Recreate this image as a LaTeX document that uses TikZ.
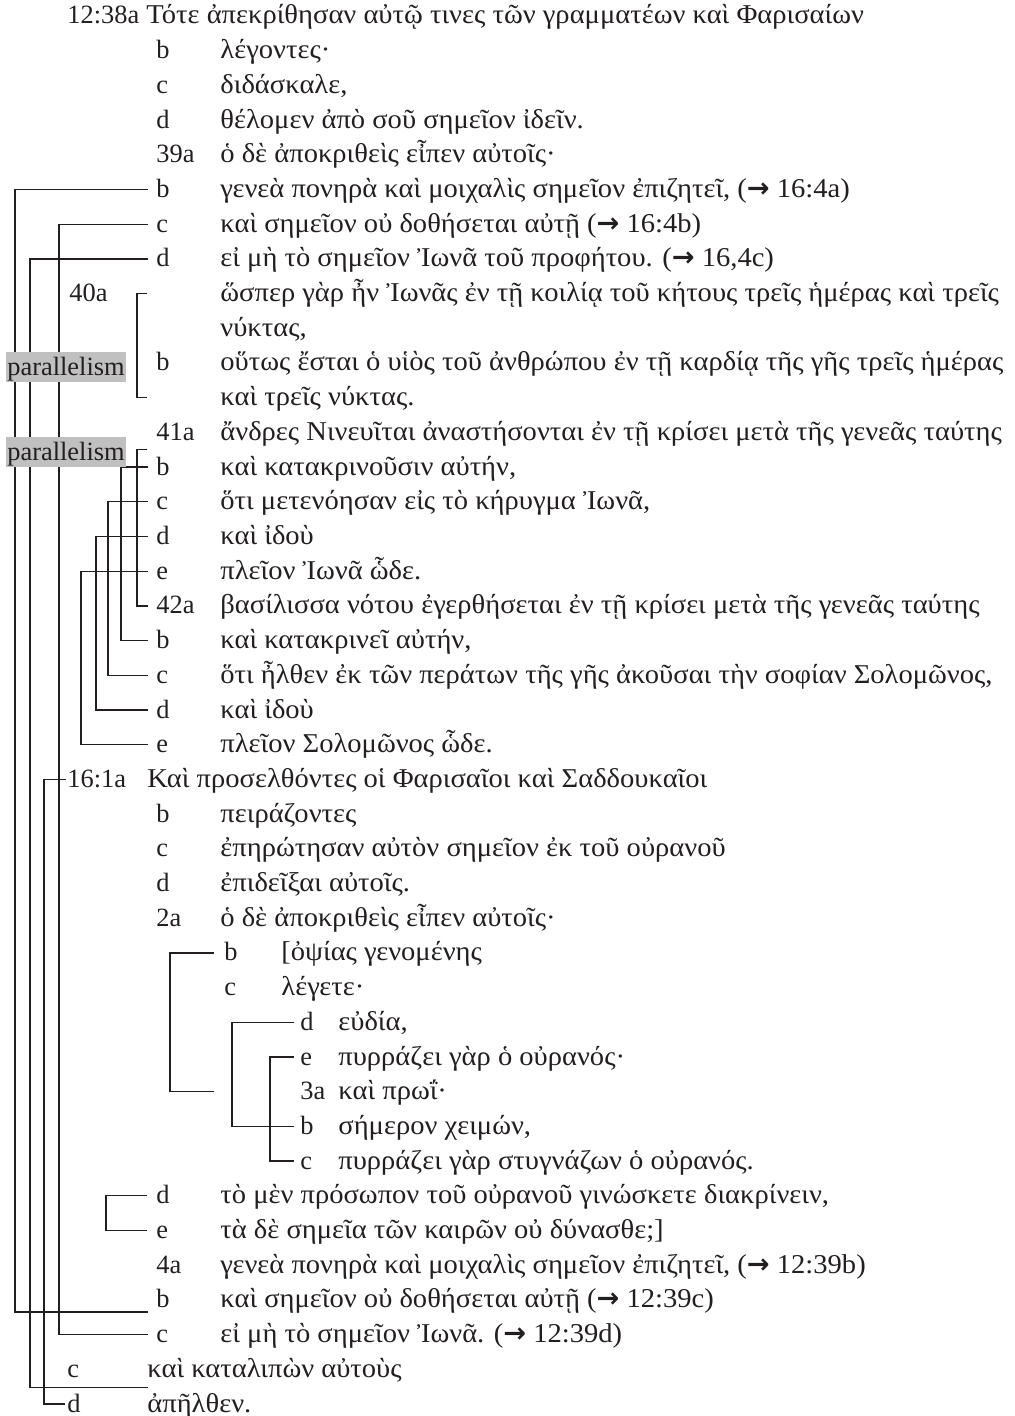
\documentclass[tikz,border=0pt]{standalone}
\usepackage{fontspec}
\setmainfont{Liberation Serif}
\newfontfamily\grk[FakeStretch=1.05]{Liberation Serif}
\newfontfamily\arrowfont{DejaVu Sans}
\definecolor{ink}{RGB}{35,31,32}
\definecolor{boxgray}{RGB}{192,192,192}
\newcommand\fsz{\fontsize{13.2pt}{16pt}\selectfont}
\newcommand\gsz{\grk\fontsize{13.6pt}{16pt}\selectfont}
\newcommand\myarr{{\arrowfont\bfseries →}}
\newcommand\yb[1]{{24+(#1-1)*34.7}}
\begin{document}
\begin{tikzpicture}[x=0.5pt,y=-0.5pt,
  lab/.style={anchor=base west, inner sep=0pt, font=\fsz, text=ink},
  txt/.style={anchor=base west, inner sep=0pt, font=\gsz, text=ink},
  conn/.style={draw=ink, line width=0.65pt},
  pbox/.style={anchor=base, fill=boxgray, inner xsep=0.8pt, inner ysep=0pt, text height=11.8pt, text depth=2.9pt, font=\fsz, text=ink}]
\useasboundingbox (0,0) rectangle (1014,1416);
% column coordinates for vertical bars
\foreach \n/\x in {v15/15,v30/30,v44/44,v59/59,v81/81,v96/96,v106/106,v108/108,v121/121,v137/137,v170/170,v232/232,v270/270}
  {\coordinate (\n) at (\x,0);}
% rows
\node[lab] (l1) at (67,\yb{1}) {12:38a};
\node[txt] (t1) at (146,\yb{1}) {Τότε ἀπεκρίθησαν αὐτῷ τινες τῶν γραμματέων καὶ Φαρισαίων};
\node[lab] (l2) at (156,\yb{2}) {b};
\node[txt] (t2) at (220,\yb{2}) {λέγοντες·};
\node[lab] (l3) at (156,\yb{3}) {c};
\node[txt] (t3) at (220,\yb{3}) {διδάσκαλε,};
\node[lab] (l4) at (156,\yb{4}) {d};
\node[txt] (t4) at (220,\yb{4}) {θέλομεν ἀπὸ σοῦ σημεῖον ἰδεῖν.};
\node[lab] (l5) at (156,\yb{5}) {39a};
\node[txt] (t5) at (220,\yb{5}) {ὁ δὲ ἀποκριθεὶς εἶπεν αὐτοῖς·};
\node[lab] (l6) at (156,\yb{6}) {b};
\node[txt] (t6) at (220,\yb{6}) {γενεὰ πονηρὰ καὶ μοιχαλὶς σημεῖον ἐπιζητεῖ, (\myarr{} 16:4a)};
\node[lab] (l7) at (156,\yb{7}) {c};
\node[txt] (t7) at (220,\yb{7}) {καὶ σημεῖον οὐ δοθήσεται αὐτῇ (\myarr{} 16:4b)};
\node[lab] (l8) at (156,\yb{8}) {d};
\node[txt] (t8) at (220,\yb{8}) {εἰ μὴ τὸ σημεῖον Ἰωνᾶ τοῦ προφήτου. (\myarr{} 16,4c)};
\node[lab] (l9) at (69,\yb{9}) {40a};
\node[txt] (t9) at (220,\yb{9}) {ὥσπερ γὰρ ἦν Ἰωνᾶς ἐν τῇ κοιλίᾳ τοῦ κήτους τρεῖς ἡμέρας καὶ τρεῖς};
\node[txt] (t10) at (220,\yb{10}) {νύκτας,};
\node[lab] (l11) at (156,\yb{11}) {b};
\node[txt] (t11) at (220,\yb{11}) {οὕτως ἔσται ὁ υἱὸς τοῦ ἀνθρώπου ἐν τῇ καρδίᾳ τῆς γῆς τρεῖς ἡμέρας};
\node[txt] (t12) at (220,\yb{12}) {καὶ τρεῖς νύκτας.};
\node[lab] (l13) at (156,\yb{13}) {41a};
\node[txt] (t13) at (220,\yb{13}) {ἄνδρες Νινευῖται ἀναστήσονται ἐν τῇ κρίσει μετὰ τῆς γενεᾶς ταύτης};
\node[lab] (l14) at (156,\yb{14}) {b};
\node[txt] (t14) at (220,\yb{14}) {καὶ κατακρινοῦσιν αὐτήν,};
\node[lab] (l15) at (156,\yb{15}) {c};
\node[txt] (t15) at (220,\yb{15}) {ὅτι μετενόησαν εἰς τὸ κήρυγμα Ἰωνᾶ,};
\node[lab] (l16) at (156,\yb{16}) {d};
\node[txt] (t16) at (220,\yb{16}) {καὶ ἰδοὺ};
\node[lab] (l17) at (156,\yb{17}) {e};
\node[txt] (t17) at (220,\yb{17}) {πλεῖον Ἰωνᾶ ὧδε.};
\node[lab] (l18) at (156,\yb{18}) {42a};
\node[txt] (t18) at (220,\yb{18}) {βασίλισσα νότου ἐγερθήσεται ἐν τῇ κρίσει μετὰ τῆς γενεᾶς ταύτης};
\node[lab] (l19) at (156,\yb{19}) {b};
\node[txt] (t19) at (220,\yb{19}) {καὶ κατακρινεῖ αὐτήν,};
\node[lab] (l20) at (156,\yb{20}) {c};
\node[txt] (t20) at (220,\yb{20}) {ὅτι ἦλθεν ἐκ τῶν περάτων τῆς γῆς ἀκοῦσαι τὴν σοφίαν Σολομῶνος,};
\node[lab] (l21) at (156,\yb{21}) {d};
\node[txt] (t21) at (220,\yb{21}) {καὶ ἰδοὺ};
\node[lab] (l22) at (156,\yb{22}) {e};
\node[txt] (t22) at (220,\yb{22}) {πλεῖον Σολομῶνος ὧδε.};
\node[lab] (l23) at (67,\yb{23}) {16:1a};
\node[txt] (t23) at (147,\yb{23}) {Καὶ προσελθόντες οἱ Φαρισαῖοι καὶ Σαδδουκαῖοι};
\node[lab] (l24) at (156,\yb{24}) {b};
\node[txt] (t24) at (220,\yb{24}) {πειράζοντες};
\node[lab] (l25) at (156,\yb{25}) {c};
\node[txt] (t25) at (220,\yb{25}) {ἐπηρώτησαν αὐτὸν σημεῖον ἐκ τοῦ οὐρανοῦ};
\node[lab] (l26) at (156,\yb{26}) {d};
\node[txt] (t26) at (220,\yb{26}) {ἐπιδεῖξαι αὐτοῖς.};
\node[lab] (l27) at (156,\yb{27}) {2a};
\node[txt] (t27) at (220,\yb{27}) {ὁ δὲ ἀποκριθεὶς εἶπεν αὐτοῖς·};
\node[lab] (l28) at (224,\yb{28}) {b};
\node[txt] (t28) at (281,\yb{28}) {[ὀψίας γενομένης};
\node[lab] (l29) at (224,\yb{29}) {c};
\node[txt] (t29) at (281,\yb{29}) {λέγετε·};
\node[lab] (l30) at (300,\yb{30}) {d};
\node[txt] (t30) at (338,\yb{30}) {εὐδία,};
\node[lab] (l31) at (300,\yb{31}) {e};
\node[txt] (t31) at (338,\yb{31}) {πυρράζει γὰρ ὁ οὐρανός·};
\node[lab] (l32) at (300,\yb{32}) {3a};
\node[txt] (t32) at (338,\yb{32}) {καὶ πρωΐ·};
\node[lab] (l33) at (300,\yb{33}) {b};
\node[txt] (t33) at (338,\yb{33}) {σήμερον χειμών,};
\node[lab] (l34) at (300,\yb{34}) {c};
\node[txt] (t34) at (338,\yb{34}) {πυρράζει γὰρ στυγνάζων ὁ οὐρανός.};
\node[lab] (l35) at (156,\yb{35}) {d};
\node[txt] (t35) at (220,\yb{35}) {τὸ μὲν πρόσωπον τοῦ οὐρανοῦ γινώσκετε διακρίνειν,};
\node[lab] (l36) at (156,\yb{36}) {e};
\node[txt] (t36) at (220,\yb{36}) {τὰ δὲ σημεῖα τῶν καιρῶν οὐ δύνασθε;]};
\node[lab] (l37) at (156,\yb{37}) {4a};
\node[txt] (t37) at (220,\yb{37}) {γενεὰ πονηρὰ καὶ μοιχαλὶς σημεῖον ἐπιζητεῖ, (\myarr{} 12:39b)};
\node[lab] (l38) at (156,\yb{38}) {b};
\node[txt] (t38) at (220,\yb{38}) {καὶ σημεῖον οὐ δοθήσεται αὐτῇ (\myarr{} 12:39c)};
\node[lab] (l39) at (156,\yb{39}) {c};
\node[txt] (t39) at (220,\yb{39}) {εἰ μὴ τὸ σημεῖον Ἰωνᾶ. (\myarr{} 12:39d)};
\node[lab] (l40) at (67,\yb{40}) {c};
\node[txt] (t40) at (147,\yb{40}) {καὶ καταλιπὼν αὐτοὺς};
\node[lab] (l41) at (67,\yb{41}) {d};
\node[txt] (t41) at (147,\yb{41}) {ἀπῆλθεν.};
% connector end points
\foreach \r in {6,7,8,14,15,16,17,18,19,20,21,22,39}
  {\coordinate (k\r) at ([shift={(-8,-8)}]l\r.base west);}
\foreach \r in {30,31,32,33,34}
  {\coordinate (k\r) at ([shift={(-6,-8)}]l\r.base west);}
\coordinate (k9) at ([shift={(-73,-8)}]t9.base west);
\coordinate (k12) at ([shift={(-73,-8)}]t12.base west);
\coordinate (k13) at ([shift={(-9,9)}]l13.base west);
\coordinate (k23) at ([shift={(-1,-8)}]l23.base west);
\coordinate (k28) at ([shift={(-10,-8)}]l28.base west);
\coordinate (k35) at ([shift={(-9,-8)}]l35.base west);
\coordinate (k36) at ([shift={(-9,-8)}]l36.base west);
\coordinate (k38) at ([shift={(-8,4)}]l38.base west);
\coordinate (k40) at ([shift={(1,10)}]t40.base west);
\coordinate (k41) at ([shift={(-2,-8)}]l41.base west);
% long brackets
\draw[conn] (k6) -| (k38 -| v15) -- (k38);
\draw[conn] (k7) -| (k39 -| v59) -- (k39);
\draw[conn] (k8) -| (k40 -| v30) -- (k40);
\draw[conn] (k23) -| (k41 -| v44) -- (k41);
% 40 and 41/42
\draw[conn] (k9) -| (k12 -| v137) -- (k12);
\draw[conn] (k13) -| (k18 -| v137) -- (k18);
\draw[conn] (k14) -| (k19 -| v121) -- (k19);
\draw[conn] (k15) -| (k20 -| v108) -- (k20);
\draw[conn] (k16) -| (k21 -| v96) -- (k21);
\draw[conn] (k17) -| (k22 -| v81) -- (k22);
% 16:2-3
\draw[conn] (k28) -| (k32 -| v170) -- (k32 -| k28);
\draw[conn] (k30) -| (k33 -| v232) -- (k33);
\draw[conn] (k31) -| (k34 -| v270) -- (k34);
\draw[conn] (k35) -| (k36 -| v106) -- (k36);
% parallelism labels
\node[pbox] (p1) at (66,376) {parallelism};
\node[pbox] (p2) at (66,461) {parallelism};
\end{tikzpicture}
\end{document}
